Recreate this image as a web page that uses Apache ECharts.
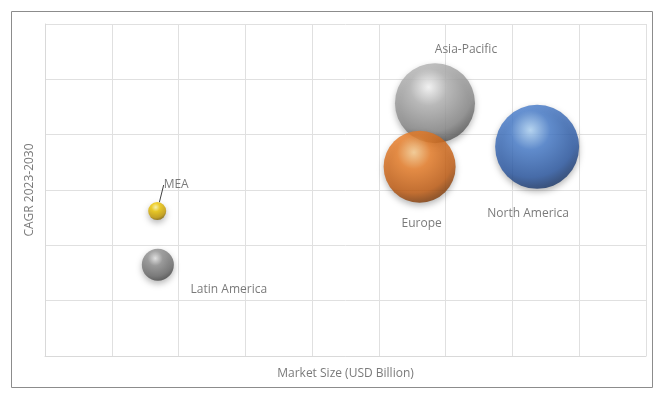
<!DOCTYPE html>
<html>
<head>
<meta charset="utf-8">
<script src="https://cdn.jsdelivr.net/npm/echarts@6/dist/echarts.min.js"></script>
<style>html,body{margin:0;padding:0;background:#fff}#c{width:665px;height:395px}</style>
</head>
<body>
<div id="c"></div>
<script>
// Data
const regions = ["North America", "Asia-Pacific", "Europe", "MEA", "Latin America"];
const marketSize = [7.37, 5.84, 5.61, 1.68, 1.69];
const cagr = [3.78, 4.57, 3.42, 2.62, 1.65];
const bubbleSize = [84, 80, 72, 18, 32];
const xAxisName = "Market Size (USD Billion)";
const yAxisName = "CAGR 2023-2030";

const palettes = [
  ["#b4dafd", "#4a80d0", "#2a58a4", "#10264e"],
  ["#ffffff", "#b8b8b8", "#8a8a8a", "#404040"],
  ["#ffd090", "#ee8028", "#c45c10", "#602a04"],
  ["#fff8a8", "#f0c800", "#c49a00", "#604800"],
  ["#eaeaea", "#929292", "#6a6a6a", "#363636"]
];
const labelOffsets = [[-9, 67], [31, -54], [2, 57], [19, -26], [71, 25]];

const chart = echarts.init(document.getElementById('c'));
const data = regions.map((name, i) => ({
  name: name,
  value: [marketSize[i], cagr[i], bubbleSize[i]],
  itemStyle: {
    color: new echarts.graphic.RadialGradient(0.42, 0.3, 0.78, [
      {offset: 0, color: palettes[i][0]},
      {offset: 0.3, color: palettes[i][1]},
      {offset: 0.72, color: palettes[i][2]},
      {offset: 1, color: palettes[i][3]}
    ]),
    shadowBlur: 6,
    shadowColor: 'rgba(0,0,0,0.35)',
    shadowOffsetY: 3
  },
  labelLine: {show: name === "MEA", lineStyle: {color: '#404040', width: 1}}
}));

chart.setOption({
  animation: false,
  graphic: [{
    type: 'rect', shape: {x: 11.5, y: 11.5, width: 641, height: 376},
    style: {fill: 'none', stroke: '#8c8c8c', lineWidth: 1}, silent: true
  }],
  grid: {left: 45, right: 19, top: 24, bottom: 39},
  xAxis: {
    type: 'value', min: 0, max: 9, interval: 1,
    name: xAxisName, nameLocation: 'middle', nameGap: 12,
    nameTextStyle: {color: '#7a7a7a', fontSize: 12, fontFamily: 'Open Sans'},
    axisLabel: {show: false}, axisTick: {show: false},
    axisLine: {lineStyle: {color: '#d9d9d9'}},
    splitLine: {lineStyle: {color: '#e0e0e0'}}
  },
  yAxis: {
    type: 'value', min: 0, max: 6, interval: 1,
    name: yAxisName, nameLocation: 'middle', nameGap: 9,
    nameTextStyle: {color: '#7a7a7a', fontSize: 12, fontFamily: 'Open Sans'},
    axisLabel: {show: false}, axisTick: {show: false},
    axisLine: {lineStyle: {color: '#d9d9d9'}},
    splitLine: {lineStyle: {color: '#e0e0e0'}}
  },
  series: [{
    type: 'scatter',
    data: data,
    symbolSize: v => v[2],
    label: {
      show: true, position: 'inside', formatter: '{b}',
      color: '#595959', fontSize: 12, fontFamily: 'Open Sans'
    },
    labelLayout: p => ({dx: labelOffsets[p.dataIndex][0], dy: labelOffsets[p.dataIndex][1]})
  }]
});
</script>
</body>
</html>
